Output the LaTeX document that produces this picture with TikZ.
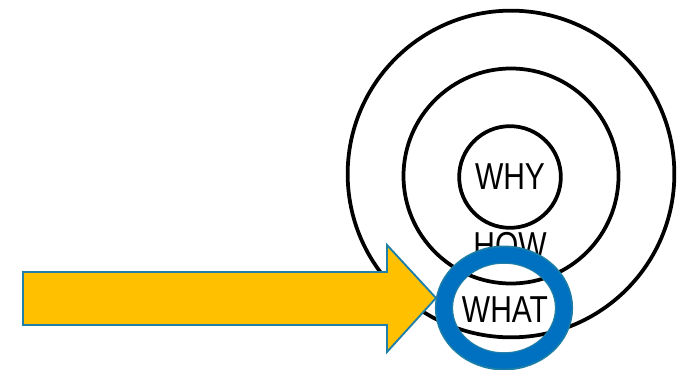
\documentclass[tikz,border=0pt]{standalone}
\usepackage{fontspec}
\setmainfont{Liberation Sans}
\newfontfamily\handfont[FakeStretch=0.8]{Liberation Sans}
\usepackage{xcolor}
\usepackage{tikz}
\usetikzlibrary{positioning,shapes.geometric}

\definecolor{arrowfill}{HTML}{FFC000}
\definecolor{edgeteal}{HTML}{1F7FA6}
\definecolor{ringblue}{HTML}{0070C0}

\begin{document}
\begin{tikzpicture}[
            x=0.03cm, y=-0.03cm, % one unit = one pixel of the reference
            ring/.style={circle, draw=black, line width=3.2pt, inner sep=0pt},
            word/.style={font=\handfont\fontsize{32}{32}\selectfont, inner sep=0pt},
            focus/.style={ellipse, draw=edgeteal, line width=15.5pt, inner sep=0pt,
                minimum width=3.6cm, minimum height=3.2cm},
            focusin/.style={draw=ringblue, line width=13pt},
            bigarrow/.style={fill=arrowfill, draw=edgeteal, line width=1.6pt, line join=miter}
        ]
        \useasboundingbox (0,0) rectangle (681,370);

        % Golden circle
        \node[ring, minimum size=9.8cm] (outer) at (511,174) {};
        \node[ring, minimum size=6.45cm] (middle) at (511,176) {};
        \node[ring, minimum size=3.05cm] (inner) at (510,177) {};

        % Labels
        \node[word] (why) at (510,177) {WHY};
        \node[word] (how) at (510,246) {HOW};
        \node[word] (what) at (505,310) {WHAT};

        % Highlight ring round WHAT
        \node[focus] (hl) at (504,308) {};
        \draw[focusin] (hl.center) ellipse [x radius=60, y radius=53];

        % Block arrow pointing at the ring
        \coordinate (tip) at (436,298);
        \draw[bigarrow] (23,272) -- (387,272) -- (387,245) -- (tip)
            -- (387,352) -- (387,325) -- (23,325) -- cycle;

        \end{tikzpicture}
\end{document}
